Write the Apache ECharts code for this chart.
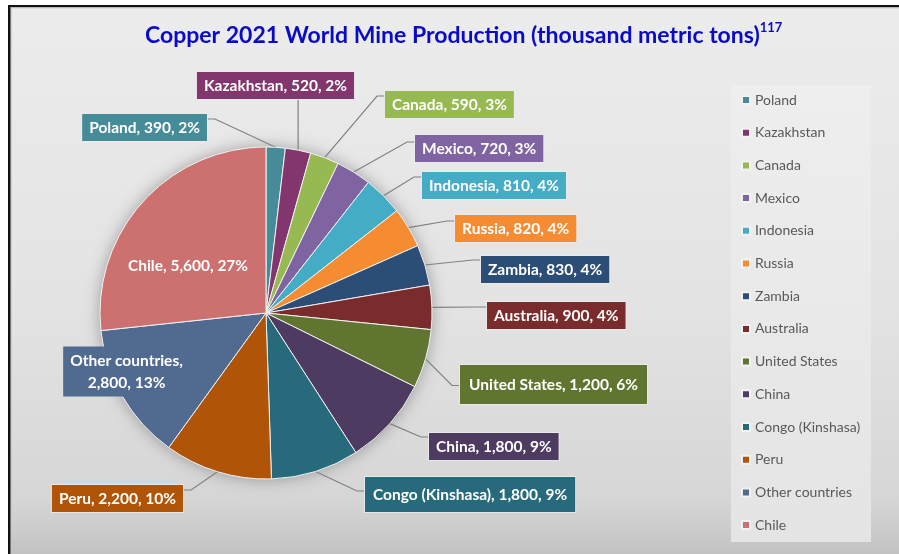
<!DOCTYPE html>
<html>
<head>
<meta charset="utf-8">
<title>Copper 2021 World Mine Production</title>
<script src="https://cdn.jsdelivr.net/npm/echarts@6/dist/echarts.min.js"></script>
<style>
  html, body { margin: 0; padding: 0; background: #ffffff; }
  #chart { width: 899px; height: 554px; }
</style>
</head>
<body>
<div id="chart"></div>
<script>
// Producing countries, in pie order (clockwise from 12 o'clock)
const countries = ['Poland', 'Kazakhstan', 'Canada', 'Mexico', 'Indonesia', 'Russia', 'Zambia',
  'Australia', 'United States', 'China', 'Congo (Kinshasa)', 'Peru', 'Other countries', 'Chile'];
// Mine production, thousand metric tons
const production = [390, 520, 590, 720, 810, 820, 830, 900, 1200, 1800, 1800, 2200, 2800, 5600];
// Slice colours
const sliceColors = ['#468C98', '#83366E', '#97B952', '#8064A2', '#45ACC6', '#F68C32', '#2C4D75',
  '#7A2C2C', '#5F7530', '#4D3B62', '#276A7C', '#B05508', '#506A90', '#CC7170'];

const titleText = 'Copper 2021 World Mine Production (thousand metric tons)';
const titleNote = '117';

// Where each callout sits: anchor point, alignment, which side the leader joins, join offset
const calloutPlace = {
  'Poland':           { x: 207, y: 114, align: 'right',  v: 'top',    line: 'right', at: 5 },
  'Kazakhstan':       { x: 275.5, y: 99, align: 'center', v: 'bottom', line: 'bottom' },
  'Canada':           { x: 385, y: 91,  align: 'left',   v: 'top',    line: 'left', at: 5 },
  'Mexico':           { x: 415, y: 135, align: 'left',   v: 'top',    line: 'left', at: 7 },
  'Indonesia':        { x: 422, y: 172, align: 'left',   v: 'top',    line: 'left', at: 5 },
  'Russia':           { x: 455, y: 215, align: 'left',   v: 'top',    line: 'left', at: 6 },
  'Zambia':           { x: 481, y: 256, align: 'left',   v: 'top',    line: 'left', at: 4 },
  'Australia':        { x: 487, y: 302, align: 'left',   v: 'top',    line: 'left', at: 5 },
  'United States':    { x: 460, y: 365, align: 'left',   v: 'top',    line: 'left', at: 'mid' },
  'China':            { x: 429, y: 433, align: 'left',   v: 'top',    line: 'left', at: 4 },
  'Congo (Kinshasa)': { x: 365, y: 477, align: 'left',   v: 'top',    line: 'left', at: 14 },
  'Peru':             { x: 183, y: 485, align: 'right',  v: 'top',    line: 'right', at: 5 },
  'Other countries':  { x: 126.5, y: 371.5, align: 'center', v: 'middle', line: null },
  'Chile':            { x: 188, y: 266, align: 'center', v: 'middle', line: null }
};

const total = production.reduce((a, b) => a + b, 0);
const fmt = v => v.toLocaleString('en-US');
const pct = v => Math.round(v / total * 100);

const labelFont = 'Lato';
const pieData = countries.map((name, i) => {
  const item = {
    name: name,
    value: production[i],
    itemStyle: { color: sliceColors[i] },
    label: { backgroundColor: sliceColors[i] }
  };
  if (name === 'Chile') {
    item.label = { position: 'inside', backgroundColor: 'transparent', borderWidth: 0, padding: 0 };
    item.labelLine = { show: false };
  } else if (name === 'Other countries') {
    item.label = { backgroundColor: sliceColors[i], borderWidth: 0, lineHeight: 22, padding: [3, 7, 3, 7] };
    item.labelLine = { show: false };
  } else if (name === 'United States') {
    item.label.padding = [11, 9, 11, 9];
  } else if (name === 'Congo (Kinshasa)') {
    item.label.padding = [9, 8, 9, 8];
  }
  return item;
});

const chart = echarts.init(document.getElementById('chart'), null, { renderer: 'canvas' });

chart.setOption({
  animation: false,
  graphic: [
    { type: 'rect', z: -10, silent: true,
      shape: { x: 10, y: 7, width: 889, height: 547 },
      style: { fill: new echarts.graphic.LinearGradient(0, 0, 0, 1, [
        { offset: 0, color: '#ececec' },
        { offset: 0.55, color: '#e3e3e3' },
        { offset: 0.9, color: '#d6d6d6' },
        { offset: 0.96, color: '#cbcbcb' },
        { offset: 1, color: '#c2c2c2' }
      ]) } },
    { type: 'rect', z: -9, silent: true, shape: { x: 10, y: 7, width: 889, height: 1.2 }, style: { fill: '#b8b8b8' } },
    { type: 'rect', z: -9, silent: true, shape: { x: 10, y: 7, width: 1.6, height: 547 }, style: { fill: '#c0c0c0' } },
    { type: 'rect', z: -8, silent: true, shape: { x: 8, y: 5, width: 891, height: 2 }, style: { fill: '#111111' } },
    { type: 'rect', z: -8, silent: true, shape: { x: 8, y: 5, width: 2.4, height: 549 }, style: { fill: '#111111' } },
    // legend panel
    { type: 'rect', z: -5, silent: true,
      shape: { x: 731, y: 85, width: 140, height: 457 },
      style: { fill: new echarts.graphic.LinearGradient(0, 0, 0, 1, [
        { offset: 0, color: '#eeeeee' },
        { offset: 1, color: '#e4e4e4' }
      ]) } }
  ],
  title: {
    text: '{t|' + titleText + '}{s|' + titleNote + '}',
    left: 140,
    top: 16,
    padding: 5,
    textStyle: {
      rich: {
        t: { fontFamily: 'Lato', fontSize: 23, fontWeight: 'bold', color: '#0A0AC8', lineHeight: 30 },
        s: { fontFamily: 'Lato', fontSize: 13, fontWeight: 'bold', color: '#0A0AC8', verticalAlign: 'top', lineHeight: 16 }
      }
    }
  },
  legend: {
    orient: 'vertical',
    left: 741,
    top: 91,
    padding: 0,
    itemWidth: 8,
    itemHeight: 8,
    itemGap: 14.7,
    icon: 'rect',
    data: countries,
    selectedMode: false,
    textStyle: { fontFamily: 'Lato', fontSize: 14, color: '#595959', lineHeight: 18 }
  },
  series: [
    {
      // soft backdrop that casts the pie's shadow
      type: 'pie',
      silent: true,
      z: 1,
      center: [266, 313],
      radius: 166,
      data: [{ value: total, name: '' }],
      label: { show: false },
      labelLine: { show: false },
      itemStyle: { color: '#d8d8d8', shadowBlur: 16, shadowColor: 'rgba(0,0,0,0.32)' },
      tooltip: { show: false }
    },
    {
      type: 'pie',
      z: 2,
      center: [266, 313],
      radius: 166,
      startAngle: 90,
      clockwise: true,
      avoidLabelOverlap: false,
      data: pieData,
      itemStyle: { borderColor: '#f2f2f2', borderWidth: 1 },
      emphasis: { scale: false },
      label: {
        show: true,
        position: 'outside',
        fontFamily: labelFont,
        fontSize: 15.5,
        fontWeight: 'bold',
        color: '#ffffff',
        lineHeight: 17,
        padding: [5, 7, 5, 7],
        borderColor: 'rgba(235,235,235,0.85)',
        borderWidth: 1,
        formatter: p => p.name === 'Other countries'
          ? p.name + ',\n' + fmt(p.value) + ', ' + pct(p.value) + '%'
          : p.name + ', ' + fmt(p.value) + ', ' + pct(p.value) + '%'
      },
      labelLine: {
        show: true,
        length: 12,
        length2: 10,
        lineStyle: { color: '#808080', width: 1.2 }
      },
      labelLayout: function (params) {
        const name = countries[params.dataIndex];
        const p = calloutPlace[name];
        const w = params.labelRect.width;
        const h = params.labelRect.height;
        const left = p.align === 'left' ? p.x : (p.align === 'right' ? p.x - w : p.x - w / 2);
        const top = p.v === 'top' ? p.y : (p.v === 'bottom' ? p.y - h : p.y - h / 2);
        const res = { x: p.x, y: p.y, align: p.align, verticalAlign: p.v };
        const pts = params.labelLinePoints;
        if (pts && p.line) {
          const e = pts[0];
          const at = p.at === 'mid' ? h / 2 : p.at;
          let a, b;
          if (p.line === 'left') {
            a = [left, top + at]; b = [left - 8, top + at];
          } else if (p.line === 'right') {
            a = [left + w, top + at]; b = [left + w + 8, top + at];
          } else {
            a = [e[0], top + h]; b = [e[0], top + h];
          }
          res.labelLinePoints = [[e[0], e[1]], b, a];
        }
        return res;
      }
    }
  ]
});
</script>
</body>
</html>
